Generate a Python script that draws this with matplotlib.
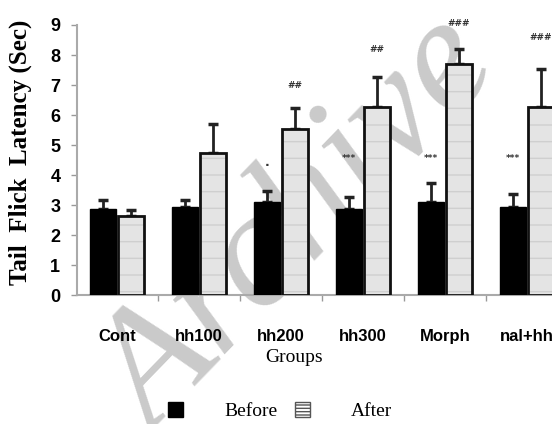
import matplotlib
matplotlib.use("Agg")
import matplotlib.pyplot as plt
import matplotlib.patches as mpatches
import numpy as np

# data
groups = ["Cont", "hh100", "hh200", "hh300", "Morph", "nal+hh"]
before = [2.86, 2.92, 3.09, 2.86, 3.09, 2.94]
before_err = [0.31, 0.25, 0.39, 0.40, 0.63, 0.43]
after = [2.63, 4.74, 5.53, 6.28, 7.69, 6.26]
after_err = [0.20, 0.96, 0.71, 0.98, 0.50, 1.26]
before_marks = ["", "", "*", "***", "***", "***"]
after_marks = ["", "", "##", "##", "###", "###"]
after_mark_y = [0, 0, 7.0, 8.17, 9.06, 8.6]

narrow = ["Liberation Sans Narrow", "Liberation Sans", "DejaVu Sans"]
serif = ["Liberation Serif", "DejaVu Serif"]

fig = plt.figure(figsize=(5.52, 4.24), dpi=100)
# axes run past the right edge, like in the cropped original
ax = fig.add_axes([77 / 552, 129 / 424, 520 / 552, 270 / 424])
ax.set_facecolor("none")

# watermark behind everything
fig.text(0.28, -0.03, "Archive", rotation=46, rotation_mode="anchor",
         ha="left", va="baseline", fontsize=118, style="italic",
         family=serif, color="#cacaca", zorder=-10)

x = np.arange(len(groups))
w = 0.32
xb = x - 0.17
xa = x + 0.165

ax.bar(xb, before, w, color="black", edgecolor="black", zorder=3)
ax.errorbar(xb, before, yerr=[np.zeros(len(x)), before_err], fmt="none",
            ecolor="#222222", elinewidth=2, capsize=3.5, capthick=2.5, zorder=2)

ax.bar(xa, after, w, color="#e4e4e4", edgecolor="#cfcfcf", hatch="-",
       linewidth=0, zorder=3)
ax.bar(xa, after, w, color="none", edgecolor="#111111", linewidth=2, zorder=4)
ax.errorbar(xa, after, yerr=[np.zeros(len(x)), after_err], fmt="none",
            ecolor="#222222", elinewidth=2, capsize=3.5, capthick=2.5, zorder=2)

# significance marks
for i in range(len(x)):
    if before_marks[i] == "*":
        ax.text(xb[i], 4.33, "·", ha="center", va="center", fontsize=9,
                color="#333333", fontweight="bold")
    elif before_marks[i]:
        ax.text(xb[i], 4.56, before_marks[i], ha="center", va="center",
                fontsize=6.5, color="#333333", fontweight="bold")
    if after_marks[i]:
        ax.text(xa[i], after_mark_y[i], after_marks[i], ha="center",
                va="center", fontsize=6.5, color="#333333",
                fontweight="bold", clip_on=False)

ax.set_xlim(-0.49, 5.85)
ax.set_ylim(0, 9)
ax.set_yticks(range(10))
ax.set_xticks(x)
ax.set_xticklabels(groups, family=narrow, fontweight="bold", fontsize=12,
                   va="baseline")
ax.set_xticks(x[:-1] + 0.5, minor=True)
for lab in ax.get_yticklabels():
    lab.set_family(narrow)
    lab.set_fontweight("bold")
    lab.set_fontsize(13)

ax.tick_params(axis="x", which="major", length=0, pad=33)
ax.tick_params(axis="x", which="minor", length=4, color="#999999", width=1)
ax.tick_params(axis="y", length=4, color="#999999", width=1, pad=8)

for s in ["top", "right"]:
    ax.spines[s].set_visible(False)
for s in ["left", "bottom"]:
    ax.spines[s].set_color("#aaaaaa")
    ax.spines[s].set_linewidth(1.5)

fig.text(20 / 552, 1 - 152 / 424, "Tail  Flick  Latency (Sec)", rotation=90,
         ha="center", va="center", family=serif, fontweight="bold",
         fontsize=18)
fig.text(294 / 552, 1 - 357 / 424, "Groups", ha="center", va="center",
         family=serif, fontsize=14)

h_before = mpatches.Patch(facecolor="black", edgecolor="black")
h_after = mpatches.Patch(facecolor="white", edgecolor="#555555", hatch="-----",
                         linewidth=1)
fig.legend([h_before, h_after], ["Before", "After"], ncol=2,
           loc="center", bbox_to_anchor=(280 / 552, 1 - 411 / 424),
           frameon=False, prop={"family": serif, "size": 14},
           handlelength=0.8, handleheight=0.8, handletextpad=2.1,
           columnspacing=0.9)

fig.savefig("out.png", dpi=100)
